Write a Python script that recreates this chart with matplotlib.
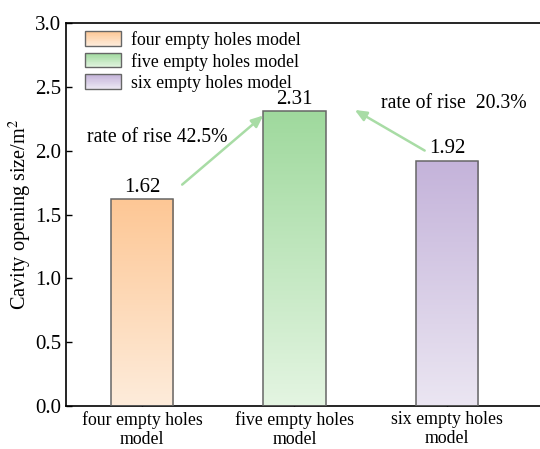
import numpy as np
import matplotlib
matplotlib.use("Agg")
import matplotlib.pyplot as plt
from matplotlib.colors import LinearSegmentedColormap, to_rgb
from matplotlib.patches import Rectangle
from matplotlib.legend_handler import HandlerBase

# data
models = ["four empty holes\nmodel", "five empty holes\nmodel", "six empty holes\nmodel"]
legend_labels = ["four empty holes model", "five empty holes model", "six empty holes model"]
sizes = [1.62, 2.31, 1.92]
top_colors = ["#fdc795", "#9fd99d", "#c4b3da"]
bottom_colors = ["#feecdb", "#e4f5e2", "#ebe6f2"]
rise_labels = ["rate of rise 42.5%", "rate of rise  20.3%"]

plt.rcParams["font.family"] = ["Liberation Serif", "DejaVu Serif"]
plt.rcParams["mathtext.fontset"] = "stix"


class GradPatch:
    def __init__(self, c_top, c_bot):
        self.c_top = c_top
        self.c_bot = c_bot


class GradHandler(HandlerBase):
    def create_artists(self, legend, orig_handle, xdescent, ydescent, width, height, fontsize, trans):
        arts = []
        n = 20
        t = np.array(to_rgb(orig_handle.c_top))
        b = np.array(to_rgb(orig_handle.c_bot))
        for i in range(n):
            f = (i + 0.5) / n
            col = b * (1 - f) + t * f
            arts.append(Rectangle((-xdescent, -ydescent + height * i / n), width, height / n + 0.3,
                                  facecolor=col, edgecolor="none", transform=trans))
        arts.append(Rectangle((-xdescent, -ydescent), width, height, facecolor="none",
                              edgecolor="#666666", lw=1, transform=trans))
        return arts


fig = plt.figure(figsize=(5.4, 4.49), dpi=100)
ax = fig.add_axes([66 / 540, 43 / 449, 0.89, 383 / 449])

x = np.arange(len(sizes))
bars = ax.bar(x, sizes, width=0.41, facecolor="none", edgecolor="#666666", lw=1.1, zorder=3)

for i, b in enumerate(bars):
    cmap = LinearSegmentedColormap.from_list("g%d" % i, [bottom_colors[i], top_colors[i]])
    grad = np.linspace(0, 1, 256).reshape(-1, 1)
    im = ax.imshow(grad, extent=[b.get_x(), b.get_x() + b.get_width(), 0, b.get_height()],
                   origin="lower", aspect="auto", cmap=cmap, zorder=2)
    im.set_clip_path(b)
    ax.text(x[i], sizes[i] + 0.02, "%.2f" % sizes[i], ha="center", va="bottom", fontsize=15)

ax.set_xlim(-0.498, 2.654)
ax.set_ylim(0, 3.0)
ax.set_yticks(np.arange(0, 3.01, 0.5))
ax.set_xticks(x)
ax.set_xticklabels(models, fontsize=12.8, linespacing=1.2)
ax.tick_params(axis="y", labelsize=15)
ax.tick_params(direction="in", length=4, width=1)
ax.set_ylabel("Cavity opening size/m$^2$", fontsize=14.6, labelpad=1)
for s in ["left", "bottom", "top"]:
    ax.spines[s].set_linewidth(1.2)
ax.spines["right"].set_visible(False)

# arrows and rise notes
ax.annotate("", xy=(0.81, 2.29), xytext=(0.25, 1.72),
            arrowprops=dict(arrowstyle="-|>,head_length=0.7,head_width=0.3", color="#a8dca5", lw=1.8))
ax.annotate("", xy=(1.38, 2.33), xytext=(1.87, 1.99),
            arrowprops=dict(arrowstyle="-|>,head_length=0.7,head_width=0.3", color="#a8dca5", lw=1.8))
ax.text(-0.36, 2.10, rise_labels[0], fontsize=14.2, va="center", ha="left")
ax.text(1.57, 2.37, rise_labels[1], fontsize=14.2, va="center", ha="left")

handles = [GradPatch(top_colors[i], bottom_colors[i]) for i in range(3)]
ax.legend(handles, legend_labels, handler_map={GradPatch: GradHandler()},
          loc="upper left", bbox_to_anchor=(0.014, 1.012), frameon=False, fontsize=12.8,
          handlelength=2.0, handleheight=0.85, handletextpad=0.55, labelspacing=0.22,
          borderaxespad=0.3)

fig.savefig("out.png", dpi=100)
